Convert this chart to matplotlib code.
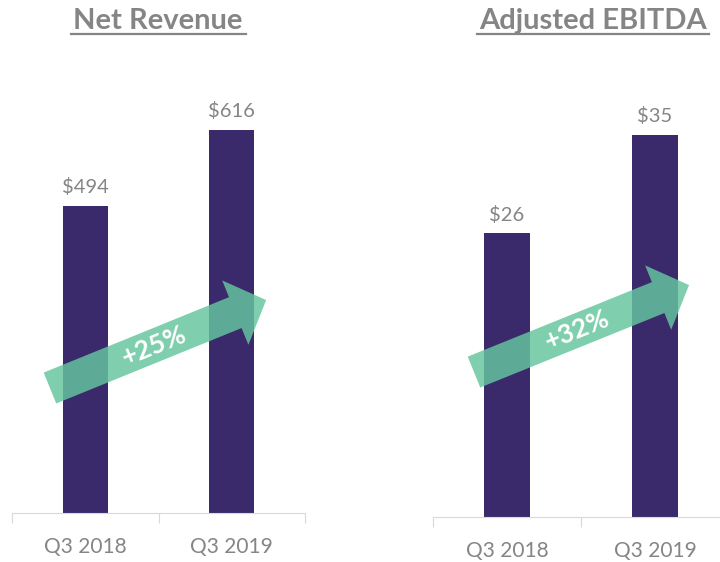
import numpy as np
import matplotlib.pyplot as plt
from matplotlib.lines import Line2D

quarters = ["Q3 2018", "Q3 2019"]
revenue = [494, 616]
ebitda = [26, 35]
revenue_growth = "+25%"
ebitda_growth = "+32%"

bar_color = "#3a2a6c"
arrow_color = "#65c69f"
grey = "#858585"

plt.rcParams["font.family"] = ["Lato", "DejaVu Sans"]

fig = plt.figure(figsize=(7.2, 5.62), dpi=100)
W, H = 720, 562


def panel(rect, values, ymax, growth, tail, tip, title, title_x, title_w):
    ax = fig.add_axes(rect)
    x = range(len(values))
    ax.bar(x, values, width=0.31, color=bar_color, zorder=2)
    for xi, v in zip(x, values):
        ax.annotate(f"${v}", (xi, v), xytext=(0, 7), textcoords="offset points",
                    ha="center", va="bottom", fontsize=14.5, color=grey)
    ax.set_xlim(-0.5, 1.5)
    ax.set_ylim(0, ymax)
    for s in ["left", "right", "top"]:
        ax.spines[s].set_visible(False)
    ax.spines["bottom"].set_color("#d9d9d9")
    ax.set_yticks([])
    ax.set_xticks([-0.5, 0.5, 1.5])
    ax.set_xticklabels([])
    ax.set_xticks(list(x), minor=True)
    ax.set_xticklabels(quarters, minor=True, fontsize=15, color=grey)
    ax.tick_params(axis="x", which="major", length=7, color="#d9d9d9")
    ax.tick_params(axis="x", which="minor", length=0, pad=17)
    # growth arrow
    ax.annotate("", xy=tip, xytext=tail, xycoords="data",
                arrowprops=dict(arrowstyle="simple,head_length=2.4,head_width=5.0,tail_width=2.4",
                                mutation_scale=10, color=arrow_color, alpha=0.83,
                                lw=0, shrinkA=0, shrinkB=0), zorder=3)
    p0 = ax.transData.transform(tail)
    p1 = ax.transData.transform(tip)
    ang = np.degrees(np.arctan2(p1[1] - p0[1], p1[0] - p0[0]))
    mx = tail[0] + (tip[0] - tail[0]) * 0.48
    my = tail[1] + (tip[1] - tail[1]) * 0.48
    ax.text(mx, my, growth, rotation=ang, rotation_mode="anchor", ha="center", va="center",
            color="white", fontsize=19, fontweight="bold", zorder=4)
    # title with underline
    fig.text(title_x / W, 1 - 21 / H, title, ha="center", va="center",
             fontsize=21, fontweight="bold", color=grey)
    fig.add_artist(Line2D([(title_x - title_w / 2) / W, (title_x + title_w / 2) / W],
                          [1 - 34 / H, 1 - 34 / H], color=grey, lw=1.6))
    return ax


panel([12 / W, 49 / H, 293 / W, 473 / H], revenue, 473 * 616 / 383, revenue_growth,
      (-0.241, 201), (1.235, 342.5), "Net Revenue", 158, 175)
panel([433 / W, 45 / H, 296 / W, 477 / H], ebitda, 477 * 35 / 382, ebitda_growth,
      (-0.223, 13.28), (1.23, 21.25), "Adjusted EBITDA", 593, 232)

fig.savefig("out.png", dpi=100)
